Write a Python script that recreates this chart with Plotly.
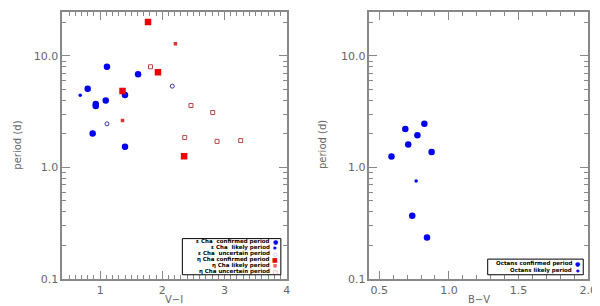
import plotly.graph_objects as go

# ---- data: left panel (V-I vs period) ----
eps_conf_x = [0.80, 1.11, 1.61, 1.40, 1.09, 0.93, 0.93, 0.88, 1.40]
eps_conf_y = [5.08, 8.0, 6.87, 4.47, 3.98, 3.71, 3.56, 2.01, 1.53]
eps_like_x = [0.68]
eps_like_y = [4.43]
eps_unc_x = [1.11, 2.16]
eps_unc_y = [2.46, 5.36]
eta_conf_x = [1.77, 1.93, 1.36, 2.35]
eta_conf_y = [20.2, 7.15, 4.85, 1.26]
eta_like_x = [2.21, 1.36]
eta_like_y = [12.9, 2.63]
eta_unc_x = [1.81, 2.46, 2.81, 2.36, 2.88, 3.26]
eta_unc_y = [8.0, 3.59, 3.11, 1.85, 1.71, 1.74]

# ---- data: right panel (B-V vs period) ----
oct_conf_x = [0.687, 0.824, 0.774, 0.708, 0.876, 0.588, 0.737, 0.843]
oct_conf_y = [2.21, 2.46, 1.94, 1.60, 1.37, 1.25, 0.367, 0.234]
oct_like_x = [0.765]
oct_like_y = [0.755]

ytick_vals = [0.1, 1, 10]
ytick_text = ["0.1", "1.0", "10.0"]
left_xticks = [1, 2, 3, 4]
right_xticks = [0.5, 1.0, 1.5, 2.0]
right_xtext = ["0.5", "1.0", "1.5", "2.0"]

legend_left = [
    ("ε Cha  confirmed period", "●", "#0000ee", 6),
    ("ε Cha  likely period", "●", "#0000ee", 4),
    ("ε Cha  uncertain period", "○", "#8888ff", 5),
    ("η Cha confirmed period", "■", "#ee0000", 6),
    ("η Cha likely period", "■", "#ff6666", 4.5),
    ("η Cha uncertain period", "□", "#dd2222", 5),
]
legend_right = [
    ("Octans confirmed period", "●", "#0000ee", 6),
    ("Octans likely period", "●", "#0000ee", 4),
]

W, H = 600, 306
BLUE = "#0000ee"
RED = "#ee0000"

fig = go.Figure()

def add(x, y, xa, ya, sym, size, color, line_color=None, lw=0):
    fig.add_trace(go.Scatter(
        x=x, y=y, xaxis=xa, yaxis=ya, mode="markers", showlegend=False,
        marker=dict(symbol=sym, size=size, color=color,
                    line=dict(color=line_color or color, width=lw))))

add(eps_conf_x, eps_conf_y, "x", "y", "circle", 6.5, BLUE)
add(eps_like_x, eps_like_y, "x", "y", "circle", 3.5, BLUE)
add(eps_unc_x, eps_unc_y, "x", "y", "circle-open", 4, "#3333aa", lw=1)
add(eta_conf_x, eta_conf_y, "x", "y", "square", 6.5, RED)
add(eta_like_x, eta_like_y, "x", "y", "square", 3.5, "#dd3333")
add(eta_unc_x, eta_unc_y, "x", "y", "square-open", 4, "#bb4444", lw=1)

add(oct_conf_x, oct_conf_y, "x2", "y2", "circle", 6.5, BLUE)
add(oct_like_x, oct_like_y, "x2", "y2", "circle", 3.5, BLUE)

axcol = "#888888"
tickfont = dict(family="DejaVu Sans", size=11, color="#666666")

common_x = dict(showgrid=False, zeroline=False, showline=True, linecolor=axcol, linewidth=1.5,
                mirror="ticks", ticks="inside", ticklen=8, tickcolor=axcol,
                tickfont=tickfont, minor=dict(ticks="inside", ticklen=4, tickcolor=axcol, dtick=0.1))
minor_y = [m * 10 ** e for e in (-1, 0, 1) for m in range(2, 10)]
common_y = dict(type="log", showgrid=False, zeroline=False, showline=True, linecolor=axcol,
                linewidth=1.5, mirror="ticks", ticks="inside", ticklen=8, tickcolor=axcol,
                tickfont=tickfont, tickvals=ytick_vals, ticktext=ytick_text,
                range=[-1, 1.396],
                minor=dict(ticks="inside", ticklen=4, tickcolor=axcol, tickvals=minor_y))

fig.update_layout(
    width=W, height=H, margin=dict(l=0, r=0, t=0, b=0),
    plot_bgcolor="white", paper_bgcolor="white",
    xaxis=dict(domain=[55 / W, 283 / W], range=[0.39, 4.0], tickvals=left_xticks,
               anchor="y", **common_x),
    yaxis=dict(domain=[(H - 277) / H, (H - 4) / H], anchor="x", **common_y),
    xaxis2=dict(domain=[367 / W, 589 / W], range=[0.43, 2.0], tickvals=right_xticks,
                ticktext=right_xtext, anchor="y2", **common_x),
    yaxis2=dict(domain=[(H - 277) / H, (H - 4) / H], anchor="x2", **common_y),
)

titlefont = dict(family="DejaVu Sans", size=10, color="#666666")
ann = [
    dict(text="V−I", x=169 / W, y=1 - 298 / H),
    dict(text="B−V", x=478 / W, y=1 - 298 / H),
]
for a in ann:
    fig.add_annotation(xref="paper", yref="paper", showarrow=False, font=titlefont,
                       xanchor="center", yanchor="middle", **a)
for xp in (10, 320):
    fig.add_annotation(xref="paper", yref="paper", x=xp / W, y=1 - 140 / H, text="period (d)",
                       textangle=-90, showarrow=False, font=titlefont,
                       xanchor="center", yanchor="middle")

def draw_legend(items, x0, y0, x1, y1):
    fig.add_shape(type="rect", xref="paper", yref="paper",
                  x0=x0 / W, x1=x1 / W, y0=1 - y0 / H, y1=1 - y1 / H,
                  line=dict(color="black", width=1), fillcolor="white")
    n = len(items)
    step = (y1 - y0) / n
    for i, (txt, sym, col, sz) in enumerate(items):
        yc = y0 + step * (i + 0.5)
        fig.add_annotation(xref="paper", yref="paper", x=(x1 - 10) / W, y=1 - yc / H,
                           text=txt, showarrow=False, xanchor="right", yanchor="middle",
                           borderpad=0,
                           font=dict(family="DejaVu Sans", size=5.5, color="black", weight="bold"))
        fig.add_annotation(xref="paper", yref="paper", x=(x1 - 5.5) / W, y=1 - yc / H,
                           text=sym, showarrow=False, xanchor="center", yanchor="middle",
                           borderpad=0,
                           font=dict(family="DejaVu Sans", size=sz, color=col))

draw_legend(legend_left, 177, 236, 277, 273)
draw_legend(legend_right, 487, 257, 584, 273)

fig.write_html("out.html")
